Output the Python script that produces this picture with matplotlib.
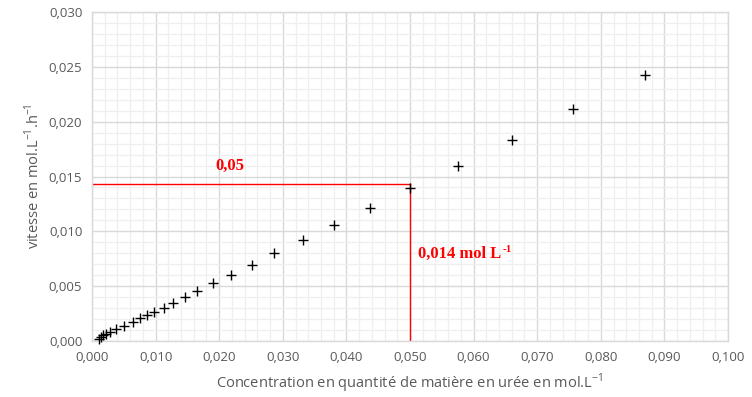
import matplotlib
matplotlib.use("Agg")
import matplotlib.pyplot as plt
from matplotlib.ticker import FuncFormatter, MultipleLocator

conc = [0.0011, 0.0014, 0.0017, 0.0022, 0.0029, 0.0038, 0.0050, 0.0064, 0.0075,
        0.0087, 0.0098, 0.0113, 0.0128, 0.0146, 0.0165, 0.0190, 0.0219, 0.0251,
        0.0286, 0.0331, 0.0380, 0.0437, 0.0500, 0.0575, 0.0660, 0.0756, 0.0870]
vitesse = [0.00021, 0.00034, 0.00052, 0.00064, 0.00085, 0.00107, 0.0014, 0.0017, 0.0021,
           0.0024, 0.00262, 0.00301, 0.00343, 0.00398, 0.00456, 0.0053, 0.00605, 0.00695,
           0.00802, 0.00918, 0.01058, 0.01212, 0.01395, 0.01596, 0.01833, 0.02115, 0.02425]
x_read = 0.050
y_read = 0.0143
label_x = "0,05"
label_y = "0,014 mol L"
label_y_sup = "-1"

fig = plt.figure(figsize=(7.52, 3.97), dpi=100)
ax = fig.add_axes([92/752, 1 - 341/397, (728-92)/752, (341-12)/397])

ax.set_xlim(0, 0.1)
ax.set_ylim(0, 0.030)
ax.xaxis.set_major_locator(MultipleLocator(0.01))
ax.xaxis.set_minor_locator(MultipleLocator(0.002))
ax.yaxis.set_major_locator(MultipleLocator(0.005))
ax.yaxis.set_minor_locator(MultipleLocator(0.001))
ax.grid(which='minor', color='#efefef', lw=0.9)
ax.grid(which='major', color='#d9d9d9', lw=1.0)
ax.set_axisbelow(True)
for s in ax.spines.values():
    s.set_color('#d9d9d9')
    s.set_linewidth(1.0)

fmt = FuncFormatter(lambda v, p: f"{v:.3f}".replace('.', ','))
ax.xaxis.set_major_formatter(fmt)
ax.yaxis.set_major_formatter(fmt)
ax.tick_params(which='both', length=0, labelsize=9.5, colors='#595959', pad=7)
for lab in ax.get_xticklabels() + ax.get_yticklabels():
    lab.set_fontfamily('Open Sans')

ax.plot([0, x_read], [y_read, y_read], color='#ff0000', lw=1.0, zorder=2)
ax.plot([x_read, x_read], [0, y_read], color='#ff0000', lw=1.0, zorder=2)

ax.plot(conc, vitesse, linestyle='none', marker='+', color='black', markersize=7, mew=1.0, zorder=3, clip_on=False)

ax.text(0.0217, 0.0160, label_x, color='#ff0000', fontsize=12, fontweight='bold',
        family='Liberation Serif', ha='center', va='center')
t = ax.text(0.0513, 0.0079, label_y, color='#ff0000', fontsize=12, fontweight='bold',
            family='Liberation Serif', ha='left', va='center')
ax.annotate(label_y_sup, xy=(1, 1), xycoords=t, xytext=(0.5, 1), textcoords='offset points',
            color='#ff0000', fontsize=8, fontweight='bold', family='Liberation Serif',
            ha='left', va='top')

ax.set_xlabel("Concentration en quantité de matière en urée en mol.L$^{\\mathregular{-1}}$",
              fontsize=10.5, color='#595959', family='Open Sans', labelpad=6)
ax.set_ylabel("vitesse en mol.L$^{\\mathregular{-1}}$.h$^{\\mathregular{-1}}$",
              fontsize=10.5, color='#595959', family='Open Sans', labelpad=4)

fig.savefig("out.png", dpi=100, facecolor='white')
